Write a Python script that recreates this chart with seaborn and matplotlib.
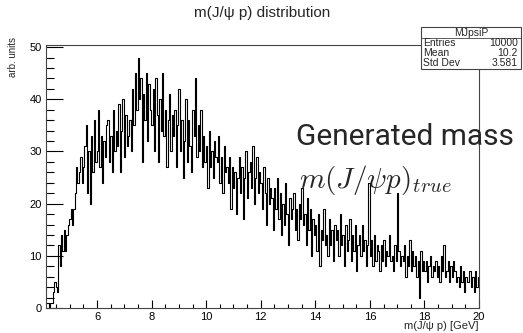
import numpy as np
import pandas as pd
import matplotlib.pyplot as plt
import matplotlib.patches as patches
from matplotlib.ticker import MultipleLocator
import seaborn as sns

# histogram content (bins from 4.13 to 20 GeV)
x_lo, x_hi = 4.13, 20.0
counts = [
    1, 1, 0, 1, 1,
    3, 5, 4, 3,
    12, 8, 14, 11,
    15, 11, 14, 16,
    17, 19, 16, 19,
    22, 27, 24, 26,
    29, 24, 27, 31,
    35, 22, 30, 20, 33, 26, 36, 28,
    30, 38, 27, 33, 24, 32, 29, 35,
    36, 28, 33, 26, 38, 30, 34, 31,
    39, 26, 34, 40, 29, 37, 31, 33,
    36, 30, 42, 35, 45, 38, 48, 40,
    44, 28, 41, 36, 45, 32, 43, 38,
    35, 42, 30, 44, 37, 28, 40, 34,
    45, 33, 38, 27, 36, 41, 30, 37,
    33, 38, 27, 35, 42, 30, 36, 25,
    32, 40, 28, 36, 31, 26, 38, 33,
    44, 29, 35, 30, 38, 27, 33, 28,
    31, 23, 34, 27, 30, 25, 32, 29,
    28, 33, 24, 29, 22, 31, 26, 27,
    24, 29, 19, 27, 23, 26, 18, 25,
    29, 22, 27, 17, 25, 30, 21, 26,
    28, 23, 31, 20, 25, 29, 22, 26,
    24, 19, 27, 22, 16, 25, 20, 23,
    21, 15, 23, 19, 25, 17, 22, 14,
    20, 16, 24, 18, 12, 21, 17, 19,
    22, 15, 19, 13, 20, 17, 23, 16,
    18, 12, 21, 15, 19, 10, 17, 14,
    16, 11, 18, 8, 15, 13, 19, 12,
    14, 10, 17, 12, 15, 9, 16, 13,
    15, 10, 18, 12, 14, 8, 16, 11,
    13, 17, 9, 14, 11, 16, 7, 12,
    14, 10, 16, 11, 13, 8, 12, 24,
    10, 13, 8, 14, 9, 12, 11, 7,
    12, 9, 13, 8, 11, 10, 14, 9,
    10, 7, 12, 9, 22, 11, 8, 10,
    9, 12, 6, 10, 8, 13, 7, 11,
    8, 10, 6, 9, 2, 11, 7, 9,
    7, 9, 5, 8, 10, 6, 8, 7,
    9, 6, 8, 5, 10, 7, 12, 6,
    7, 9, 5, 8, 6, 9, 7, 5,
    6, 4, 8, 5, 7, 3, 6, 5,
    5, 7, 4, 6, 3, 7, 4, 6,
]
stat_labels = ["Entries", "Mean", "Std Dev"]
stat_values = ["10000", "10.2", "3.581"]

edges = np.linspace(x_lo, x_hi, len(counts) + 1)
df = pd.DataFrame({"m": 0.5 * (edges[:-1] + edges[1:]), "w": np.array(counts, dtype=float)})

sns.set_style("ticks")
plt.rcParams['font.family'] = ['Liberation Sans', 'DejaVu Sans']
plt.rcParams['mathtext.fontset'] = 'cm'

fig = plt.figure(figsize=(5.23, 3.33), dpi=100)
ax = fig.add_axes([46/523, 1 - 308/333, (479 - 46)/523, (308 - 45)/333])

sns.histplot(data=df, x="m", weights="w", bins=list(edges), element='step', fill=False,
             color='black', linewidth=0.8, ax=ax)

ax.set_xlim(x_lo, x_hi)
ax.set_ylim(0, 50.4)
ax.set_xlabel('')
ax.set_ylabel('')
ax.xaxis.set_major_locator(MultipleLocator(2))
ax.xaxis.set_minor_locator(MultipleLocator(0.5))
ax.yaxis.set_major_locator(MultipleLocator(10))
ax.yaxis.set_minor_locator(MultipleLocator(2))
ax.tick_params(axis='both', which='both', direction='in', labelsize=8, width=0.8, colors='black')
ax.tick_params(axis='x', which='major', length=6, pad=3)
ax.tick_params(axis='x', which='minor', length=3)
ax.tick_params(axis='y', which='major', length=12, pad=3)
ax.tick_params(axis='y', which='minor', length=6)
for s in ax.spines.values():
    s.set_visible(True)
    s.set_linewidth(0.8)
    s.set_color('#444444')

fig.text(262/523, 1 - 13/333, 'm(J/\u03c8 p) distribution', ha='center', va='center', fontsize=11)
fig.text(13/523, 1 - 37/333, 'arb. units', rotation=90, ha='center', va='top', fontsize=7)
fig.text(479/523, 1 - 326/333, 'm(J/\u03c8 p) [GeV]', ha='right', va='center', fontsize=8)

# stats box
bx0, bx1, by0, by1 = 421, 521, 27, 69
fig.patches.append(patches.Rectangle((bx0/523, 1 - by1/333), (bx1 - bx0)/523, (by1 - by0)/333,
                                     transform=fig.transFigure, facecolor='white',
                                     edgecolor='#444444', linewidth=0.8, zorder=5))
fig.add_artist(plt.Line2D([bx0/523, bx1/523], [1 - 37.5/333, 1 - 37.5/333],
                          transform=fig.transFigure, color='#444444', linewidth=0.6, zorder=6))
fig.text((bx0 + bx1)/2/523, 1 - 32.5/333, 'MJpsiP', ha='center', va='center', fontsize=7.5, zorder=7)
for i, (lab, val) in enumerate(zip(stat_labels, stat_values)):
    yy = 1 - (43.5 + i * 9.8)/333
    fig.text((bx0 + 2)/523, yy, lab, ha='left', va='center', fontsize=7.5, zorder=7)
    fig.text((bx1 - 3)/523, yy, val, ha='right', va='center', fontsize=7.5, zorder=7)

fig.text(296/523, 1 - 137/333, 'Generated mass', ha='left', va='center', fontsize=21.5,
         family=['Roboto', 'DejaVu Sans'], zorder=8)
fig.text(299/523, 1 - 180/333, r'$m(J/\psi p)_{true}$', ha='left', va='center', fontsize=21, zorder=8)

fig.savefig('out.png', dpi=100)
